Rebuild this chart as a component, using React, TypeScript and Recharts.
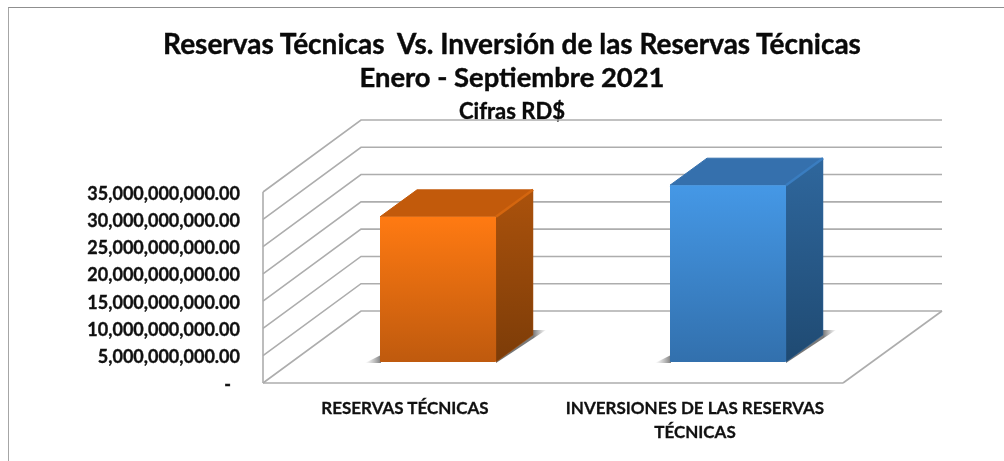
import React from 'react';
import { BarChart, Bar, XAxis, YAxis, CartesianGrid, Text } from 'recharts';

const categories = ['RESERVAS TÉCNICAS', 'INVERSIONES DE LAS RESERVAS TÉCNICAS'];
const seriesValues = [26600000000, 32400000000];
const yTicks = [0, 5000000000, 10000000000, 15000000000, 20000000000, 25000000000, 30000000000, 35000000000];
const titleLines = ['Reservas Técnicas  Vs. Inversión de las Reservas Técnicas', 'Enero - Septiembre 2021'];
const subtitle = 'Cifras RD$';

const data = categories.map((name, i) => ({ name, value: seriesValues[i] }));

const FONT = 'Lato, "Open Sans", sans-serif';
const GRID = '#adadad';
// depth of the 3D box the chart sits in
const WALL_DX = 98;
const WALL_DY = 72;
// bars stand part of the way into the floor
const BAR_SHIFT_X = 30;
const BAR_SHIFT_Y = 21;
const BAR_DX = 37;
const BAR_DY = 27;

const palette = [
  { id: 'orange', top: '#c25a0b', edge: '#d4660f', frontA: '#ff7a12', frontB: '#bf5a0e', sideA: '#ab520c', sideB: '#7c3c08' },
  { id: 'blue', top: '#3570ad', edge: '#3a7dc0', frontA: '#4598e6', frontB: '#3270ad', sideA: '#2f679d', sideB: '#1f4a72' }
];

const wallLine = (props: any) => {
  const { x1, y1, x2, key } = props;
  const backY = y1 - WALL_DY;
  const isFloor = y1 > 368;
  return (
    <g key={key}>
      <polyline
        points={`${x1},${y1} ${x1 + WALL_DX},${backY} ${x2 + WALL_DX + 1},${backY}`}
        fill="none"
        stroke={GRID}
        strokeWidth={1.6}
      />
      {isFloor && <line x1={x2} y1={y1} x2={x2 + WALL_DX + 1} y2={backY} stroke={GRID} strokeWidth={1.6} />}
    </g>
  );
};

const Box3D = (props: any) => {
  const { x, y, width, height, index } = props;
  const c = palette[index];
  const left = x + BAR_SHIFT_X;
  const right = left + width;
  const top = y - BAR_SHIFT_Y;
  const base = top + height;
  return (
    <g>
      <defs>
        <linearGradient id={`${c.id}-front`} x1="0" y1="0" x2="0" y2="1">
          <stop offset="0%" stopColor={c.frontA} />
          <stop offset="100%" stopColor={c.frontB} />
        </linearGradient>
        <linearGradient id={`${c.id}-side`} x1="0" y1="0" x2="0" y2="1">
          <stop offset="0%" stopColor={c.sideA} />
          <stop offset="100%" stopColor={c.sideB} />
        </linearGradient>
        <linearGradient id={`${c.id}-shadow-r`} x1="0" y1="0" x2="1" y2="0">
          <stop offset="0%" stopColor="#5a5a5a" stopOpacity={0.85} />
          <stop offset="75%" stopColor="#5a5a5a" stopOpacity={0.8} />
          <stop offset="100%" stopColor="#888" stopOpacity={0.05} />
        </linearGradient>
        <linearGradient id={`${c.id}-shadow-l`} x1="1" y1="0" x2="0" y2="0">
          <stop offset="0%" stopColor="#5a5a5a" stopOpacity={0.8} />
          <stop offset="100%" stopColor="#999" stopOpacity={0} />
        </linearGradient>
      </defs>
      <polygon
        points={`${left + 1},${base - 7} ${left + 1},${base + 1} ${left - 15},${base + 1}`}
        fill={`url(#${c.id}-shadow-l)`}
      />
      <polygon
        points={`${right},${base + 1} ${right + BAR_DX + 13},${base - BAR_DY - 5} ${right + BAR_DX - 2},${base - BAR_DY - 5} ${right},${base - 5}`}
        fill={`url(#${c.id}-shadow-r)`}
      />
      <polygon
        points={`${left},${top} ${left + BAR_DX},${top - BAR_DY} ${right + BAR_DX},${top - BAR_DY} ${right},${top}`}
        fill={c.top}
        stroke={c.top}
        strokeLinejoin="round"
      />
      <polygon
        points={`${right},${top} ${right + BAR_DX},${top - BAR_DY} ${right + BAR_DX},${base - BAR_DY} ${right},${base}`}
        fill={`url(#${c.id}-side)`}
        stroke={c.sideA}
        strokeWidth={0.5}
      />
      <line x1={right} y1={top} x2={right + BAR_DX} y2={top - BAR_DY} stroke={c.edge} strokeWidth={2.5} />
      <rect x={left} y={top} width={width} height={height} fill={`url(#${c.id}-front)`} rx={1} />
    </g>
  );
};

const YTick = (props: any) => {
  const { x, y, payload } = props;
  const isZero = payload.value === 0;
  return (
    <text
      x={isZero ? x - 9 : x}
      y={y + 3}
      textAnchor="end"
      dominantBaseline="middle"
      fontFamily={FONT}
      fontWeight={700}
      fontSize={18}
      fill="#111"
      stroke="#111"
      strokeWidth={0.35}
    >
      {isZero ? '-' : `${payload.value.toLocaleString('en-US')}.00`}
    </text>
  );
};

const XTick = (props: any) => {
  const { x, y, payload } = props;
  return (
    <Text
      x={x - 3}
      y={y - 1}
      width={275}
      textAnchor="middle"
      verticalAnchor="start"
      lineHeight={24}
      fontFamily={FONT}
      fontWeight={700}
      fontSize={17}
      fill="#111"
      stroke="#111"
      strokeWidth={0.3}
    >
      {payload.value}
    </Text>
  );
};

const titleStyle: React.CSSProperties = {
  position: 'absolute',
  left: 0,
  width: 1024,
  textAlign: 'center',
  fontFamily: FONT,
  fontWeight: 700,
  color: '#0a0a0a',
  whiteSpace: 'pre',
  WebkitTextStroke: '0.4px #0a0a0a'
};

export default function App() {
  return (
    <div style={{ position: 'absolute', left: 0, top: 0, width: 1004, height: 461, overflow: 'hidden', background: '#fff', filter: 'blur(0.4px)' }}>
      <div style={{ position: 'absolute', left: 8, top: 7, width: 996, height: 454, borderLeft: '1.5px solid #a6a6a6', borderTop: '1.5px solid #8f8f8f' }} />
      <div style={{ ...titleStyle, top: 26, fontSize: 28, lineHeight: '34px' }}>{titleLines[0]}</div>
      <div style={{ ...titleStyle, top: 60, fontSize: 27.4, lineHeight: '34px' }}>{titleLines[1]}</div>
      <div style={{ ...titleStyle, top: 98, width: 1024, fontSize: 22, lineHeight: '26px' }}>{subtitle}</div>
      <div style={{ position: 'absolute', left: 0, top: 0 }}>
        <BarChart
          width={1004}
          height={461}
          data={data}
          margin={{ top: 192, right: 161, bottom: 0, left: 0 }}
          style={{ overflow: 'visible' }}
        >
          <CartesianGrid vertical={false} horizontal={wallLine} syncWithTicks />
          <XAxis
            dataKey="name"
            height={78}
            interval={0}
            tick={XTick}
            tickLine={false}
            tickMargin={14}
            axisLine={{ stroke: GRID, strokeWidth: 1.6 }}
          />
          <YAxis
            width={263}
            domain={[0, 35000000000]}
            ticks={yTicks}
            tick={YTick}
            tickLine={false}
            tickSize={0}
            tickMargin={23}
            axisLine={{ stroke: GRID, strokeWidth: 1.6 }}
          />
          <Bar dataKey="value" barSize={116} shape={Box3D} isAnimationActive={false} />
        </BarChart>
      </div>
    </div>
  );
}
